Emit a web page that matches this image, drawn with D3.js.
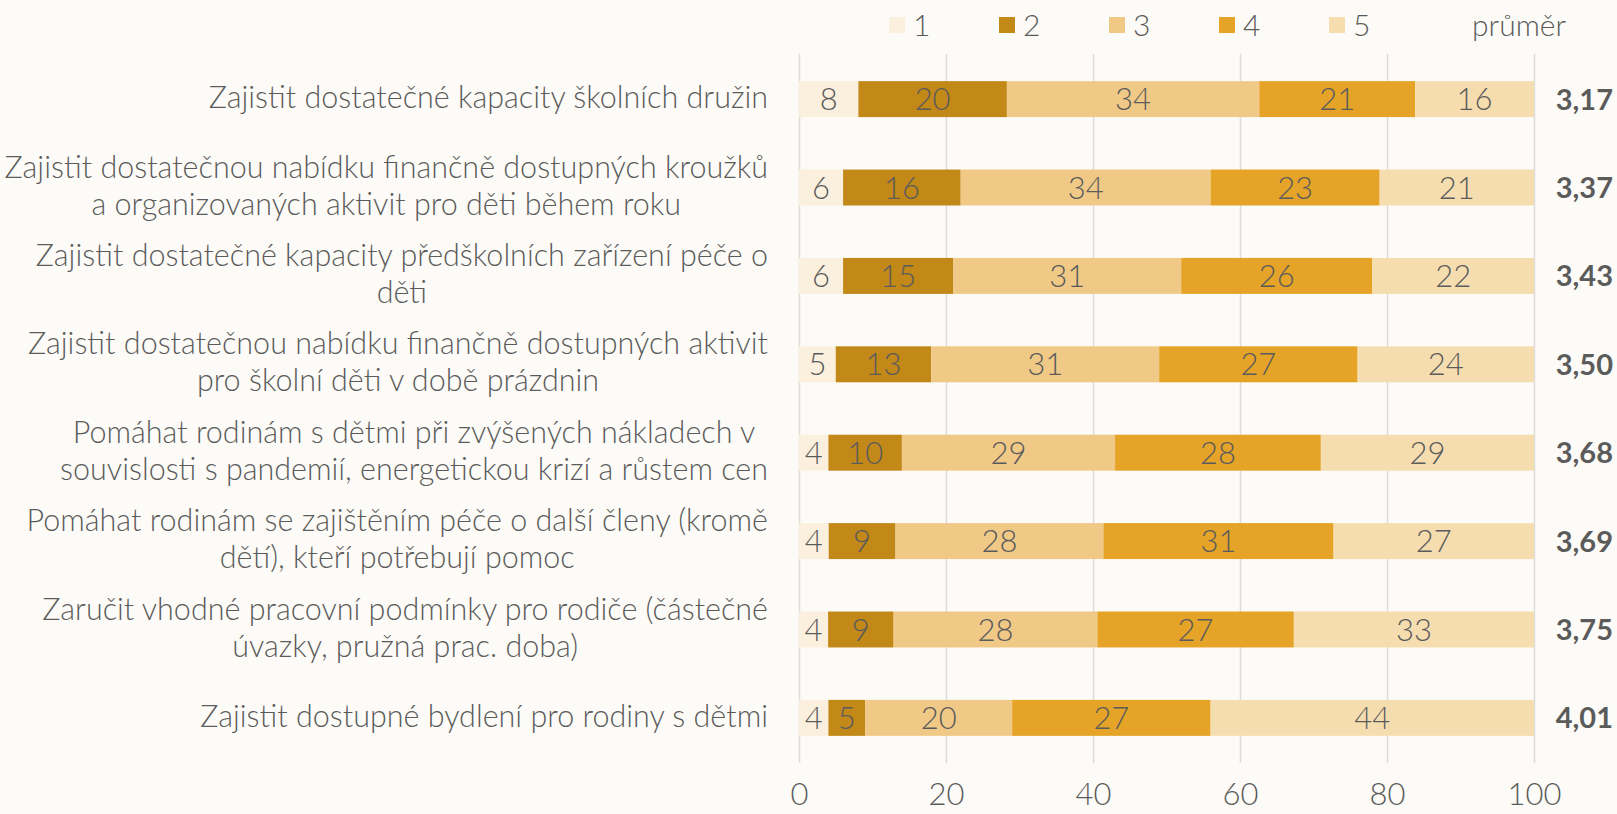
<!DOCTYPE html>
<html>
<head>
<meta charset="utf-8">
<script src="https://cdn.jsdelivr.net/npm/d3@7"></script>
<style>
  html, body { margin: 0; padding: 0; background: #fdfbf7; }
  svg { display: block; font-family: Lato, "Noto Sans", sans-serif; }
</style>
</head>
<body>
<svg id="svg" width="1617" height="814"></svg>
<script>
const svg = d3.select("#svg");

const width = 1617;
const height = 814;

// category labels, already broken into the lines seen in the picture
const categories = [
  ["Zajistit dostatečné kapacity školních družin"],
  ["Zajistit dostatečnou nabídku finančně dostupných kroužků", "a organizovaných aktivit pro děti během roku"],
  ["Zajistit dostatečné kapacity předškolních zařízení péče o", "děti"],
  ["Zajistit dostatečnou nabídku finančně dostupných aktivit", "pro školní děti v době prázdnin"],
  ["Pomáhat rodinám s dětmi při zvýšených nákladech v", "souvislosti s pandemií, energetickou krizí a růstem cen"],
  ["Pomáhat rodinám se zajištěním péče o další členy (kromě", "dětí), kteří potřebují pomoc"],
  ["Zaručit vhodné pracovní podmínky pro rodiče (částečné", "úvazky, pružná prac. doba)"],
  ["Zajistit dostupné bydlení pro rodiny s dětmi"],
];

const seriesKeys = ["1", "2", "3", "4", "5"];

const s1 = [8, 6, 6, 5, 4, 4, 4, 4];
const s2 = [20, 16, 15, 13, 10, 9, 9, 5];
const s3 = [34, 34, 31, 31, 29, 28, 28, 20];
const s4 = [21, 23, 26, 27, 28, 31, 27, 27];
const s5 = [16, 21, 22, 24, 29, 27, 33, 44];

const means = ["3,17", "3,37", "3,43", "3,50", "3,68", "3,69", "3,75", "4,01"];

const xTicks = [0, 20, 40, 60, 80, 100];

const colors = ["#fbf0de", "#c28818", "#f0c987", "#e5a428", "#f6ddb0"];
const textColor = "#5b5b5b";

const rows = categories.map((c, i) => ({
  idx: i,
  "1": s1[i], "2": s2[i], "3": s3[i], "4": s4[i], "5": s5[i],
}));

const plot = { left: 799, right: 1534, top: 54, bottom: 763 };

// 100% stacked: each row is normalised to its own total
const stacked = d3.stack().keys(seriesKeys).offset(d3.stackOffsetExpand)(rows);

const x = d3.scaleLinear().domain([0, 1]).range([plot.left, plot.right]);

const y = d3
  .scaleBand()
  .domain(rows.map((d) => d.idx))
  .range([plot.top, plot.bottom])
  .paddingInner(0.593)
  .paddingOuter(0.307);

const colorScale = d3.scaleOrdinal(seriesKeys, colors);

// gridlines + tick labels
const axis = svg
  .append("g")
  .attr("transform", `translate(0,${plot.bottom})`)
  .call(
    d3
      .axisBottom(x)
      .tickValues(xTicks.map((t) => t / 100))
      .tickFormat((d) => Math.round(d * 100))
      .tickSizeInner(-(plot.bottom - plot.top))
      .tickSizeOuter(0)
      .tickPadding(20)
  )
  // d3 puts sans-serif on the axis group, override it
  .attr("font-family", null)
  .attr("font-size", null);
axis.select(".domain").remove();
axis.selectAll("line").attr("stroke", "#dcdcdc").attr("stroke-width", 1.5);
axis
  .selectAll("text")
  .style("font-size", "31px")
  .style("font-weight", 300)
  .attr("fill", textColor);

// bars
const layer = svg
  .append("g")
  .selectAll("g")
  .data(stacked)
  .join("g")
  .attr("fill", (d) => colorScale(d.key));

layer
  .selectAll("rect")
  .data((d) => d.map((p) => Object.assign(p, { key: d.key })))
  .join("rect")
  .attr("x", (d) => x(d[0]))
  .attr("y", (d) => y(d.data.idx))
  .attr("width", (d) => x(d[1]) - x(d[0]))
  .attr("height", y.bandwidth());

// segment value labels
layer
  .selectAll("text")
  .data((d) => d)
  .join("text")
  .attr("x", (d) => (x(d[0]) + x(d[1])) / 2)
  .attr("y", (d) => y(d.data.idx) + y.bandwidth() / 2)
  .attr("dy", "0.36em")
  .attr("text-anchor", "middle")
  .attr("fill", textColor)
  .style("font-size", "31px")
  .style("font-weight", 300)
  .text((d) => d.data[d.key]);

// average column
svg
  .append("g")
  .selectAll("text")
  .data(means)
  .join("text")
  .attr("x", 1613)
  .attr("y", (d, i) => y(i) + y.bandwidth() / 2)
  .attr("dy", "0.36em")
  .attr("text-anchor", "end")
  .attr("fill", textColor)
  .style("font-size", "29px")
  .style("font-weight", "bold")
  .text((d) => d);

// category labels: block right-aligned, lines centred inside the block
const labelRight = 768;
const lineH = 37;
const labels = svg
  .append("g")
  .selectAll("text")
  .data(categories)
  .join("text")
  .attr("fill", textColor)
  .attr("text-anchor", "middle")
  .style("font-size", "30.5px")
  .style("font-weight", 300);

labels.each(function (lines, i) {
  const t = d3.select(this);
  const cy = y(i) + y.bandwidth() / 2 - 2;
  const spans = t
    .selectAll("tspan")
    .data(lines)
    .join("tspan")
    .attr("y", (d, j) => cy + (j - (lines.length - 1) / 2) * lineH)
    .attr("dy", "0.35em")
    .text((d) => d);
  let maxW = 0;
  spans.each(function () {
    maxW = Math.max(maxW, this.getComputedTextLength());
  });
  spans.attr("x", labelRight - maxW / 2);
});

// legend
const legendKeys = seriesKeys.concat(["průměr"]);
const legend = svg
  .append("g")
  .selectAll("g")
  .data(legendKeys)
  .join("g")
  .attr("transform", (d, i) => `translate(${889 + i * 110},25)`);

legend
  .filter((d, i) => i < seriesKeys.length)
  .append("rect")
  .attr("x", 0)
  .attr("y", -8)
  .attr("width", 16)
  .attr("height", 16)
  .attr("fill", (d) => colorScale(d));

legend
  .append("text")
  .attr("x", (d, i) => (i < seriesKeys.length ? 24 : 33))
  .attr("dy", "0.35em")
  .attr("fill", textColor)
  .style("font-size", "30px")
  .style("font-weight", 300)
  .text((d) => d);
</script>
</body>
</html>
